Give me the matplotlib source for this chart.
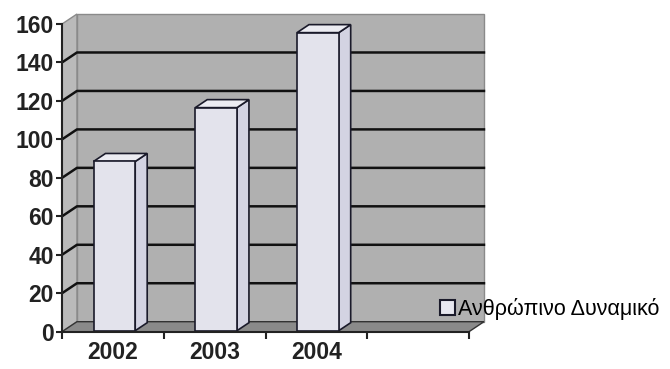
import matplotlib
matplotlib.use('Agg')
import matplotlib.pyplot as plt
from matplotlib.patches import Polygon, Patch

plt.rcParams['font.family'] = ['Liberation Sans', 'DejaVu Sans']

years = ['2002', '2003', '2004']
values = [88, 116, 155]
series_name = 'Ανθρώπινο Δυναμικό'
y_ticks = [0, 20, 40, 60, 80, 100, 120, 140, 160]

# oblique "3d" depth, in data units (x: category slots, y: value)
DX = 0.147
DY = 5.2
N_SLOTS = 4
Y_MAX = 160

WALL = '#b0b0b0'
SIDE_WALL = '#bababa'
FLOOR = '#8a8a8a'
FRONT = '#e3e3ec'
SIDE = '#d3d3e2'
TOP = '#ececf2'
EDGE = '#1a1a2a'

fig = plt.figure(figsize=(6.7, 3.69), dpi=100)
ax = fig.add_axes([62 / 670, (369 - 331.7) / 369, 610.5 / 670, 331.7 / 369])
ax.set_xlim(0, 6.0)
ax.set_ylim(0, 331.7 / 1.923)

# walls and floor
ax.add_patch(Polygon([(DX, DY), (N_SLOTS + DX, DY), (N_SLOTS + DX, Y_MAX + DY), (DX, Y_MAX + DY)],
                     closed=True, facecolor=WALL, edgecolor='#8a8a8a', lw=1, zorder=1))
ax.add_patch(Polygon([(0, 0), (DX, DY), (DX, Y_MAX + DY), (0, Y_MAX)],
                     closed=True, facecolor=SIDE_WALL, edgecolor='#8a8a8a', lw=1, zorder=1))
for t in y_ticks[1:-1]:
    ax.plot([0, DX, N_SLOTS + DX], [t, t + DY, t + DY], color='#111111', lw=1.8, zorder=2)
ax.add_patch(Polygon([(0, 0), (N_SLOTS, 0), (N_SLOTS + DX, DY), (DX, DY)],
                     closed=True, facecolor=FLOOR, edgecolor='#333333', lw=1, zorder=3))

# bars
bw = 0.41
z0, z1 = 0.1, 0.9
for i, v in enumerate(values):
    xl = i + 0.5 - bw / 2 + z0 * DX
    xr = xl + bw
    yb = z0 * DY
    yt = v + z0 * DY
    ddx = (z1 - z0) * DX
    ddy = (z1 - z0) * DY
    ax.add_patch(Polygon([(xr, yb), (xr + ddx, yb + ddy), (xr + ddx, yt + ddy), (xr, yt)],
                         closed=True, facecolor=SIDE, edgecolor=EDGE, lw=1.2, zorder=4))
    ax.add_patch(Polygon([(xl, yt), (xr, yt), (xr + ddx, yt + ddy), (xl + ddx, yt + ddy)],
                         closed=True, facecolor=TOP, edgecolor=EDGE, lw=1.2, zorder=4))
    ax.add_patch(Polygon([(xl, yb), (xr, yb), (xr, yt), (xl, yt)],
                         closed=True, facecolor=FRONT, edgecolor=EDGE, lw=1.2, zorder=5))

# axes
for s in ['top', 'right']:
    ax.spines[s].set_visible(False)
ax.spines['left'].set_bounds(0, Y_MAX)
ax.spines['bottom'].set_bounds(0, N_SLOTS)
for s in ['left', 'bottom']:
    ax.spines[s].set_color('#222222')
    ax.spines[s].set_linewidth(1.5)
    ax.spines[s].set_zorder(6)
ax.set_yticks(y_ticks)
ax.set_yticklabels([str(t) for t in y_ticks], fontsize=16.5, fontweight='bold', color='#222222')
ax.tick_params(axis='y', direction='out', length=4, width=1.5, pad=2, colors='#222222')
ax.set_xticks(range(N_SLOTS + 1))
ax.set_xticklabels([])
ax.tick_params(axis='x', which='major', direction='out', length=5, width=1.5, color='#222222')
ax.set_xticks([i + 0.5 for i in range(len(years))], minor=True)
ax.set_xticklabels(years, minor=True, fontsize=16.5, fontweight='bold', color='#222222')
ax.tick_params(axis='x', which='minor', length=0, pad=7)
ax.patch.set_visible(False)

handle = Patch(facecolor='#e8e8f0', edgecolor='#1a1a2a', lw=1.5)
fig.legend([handle], [series_name], loc='lower left',
           bbox_to_anchor=(440 / 670, (369 - 320) / 369), frameon=False,
           fontsize=15.5, handlelength=0.7, handleheight=0.7, handletextpad=0.15,
           borderpad=0, borderaxespad=0)

fig.savefig('out.png', dpi=100)
